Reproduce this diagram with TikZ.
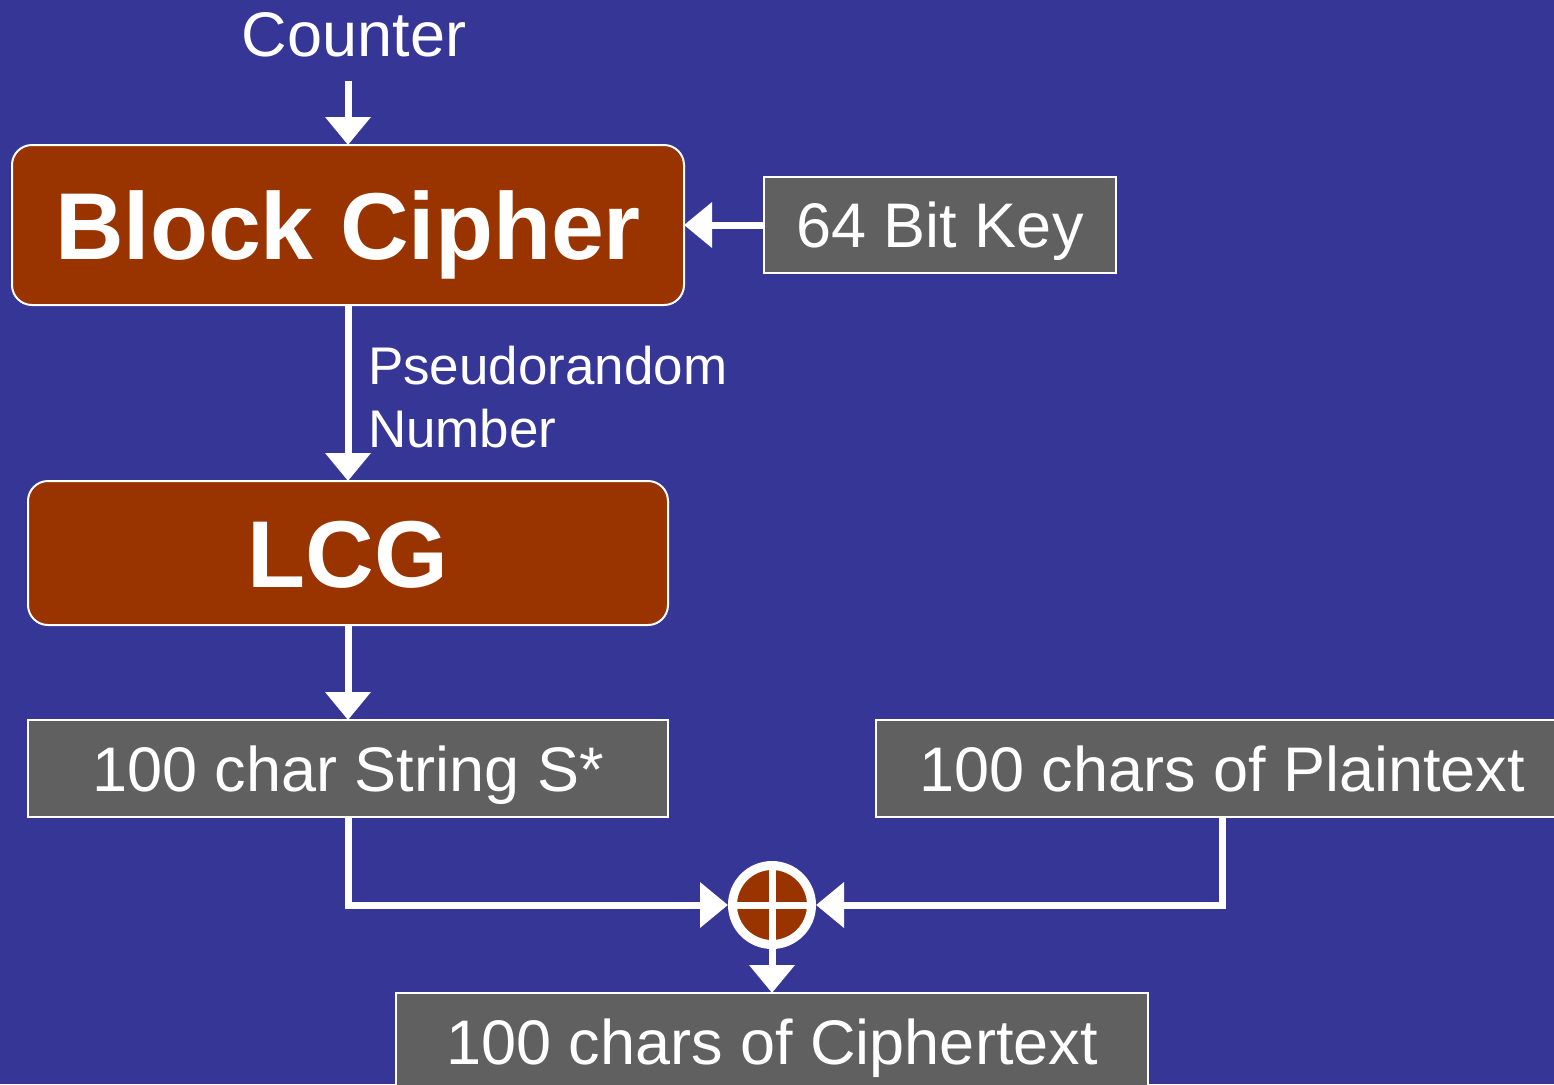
\documentclass[tikz,border=0pt]{standalone}
\usepackage{fontspec}
\setmainfont{Liberation Sans}
\usetikzlibrary{arrows.meta}
\definecolor{bgblue}{RGB}{54,54,150}
\definecolor{rust}{RGB}{153,51,0}
\definecolor{slate}{RGB}{96,96,96}

\begin{document}
\begin{tikzpicture}[x=0.5pt,y=-0.5pt]
        \tikzstyle{every node}+=[inner sep=0pt, outer sep=0pt, text=white]
        \tikzstyle{cipherbox}=[draw=white, line width=1pt, fill=rust, rounded corners=10pt, text height=34pt, text depth=0pt, font=\bfseries\fontsize{47.5}{50}\selectfont]
        \tikzstyle{databox}=[draw=white, line width=1pt, fill=slate, text height=22.6pt, text depth=0pt, font=\fontsize{31.5}{36}\selectfont]
        \tikzstyle{flow}=[draw=white, line width=3.5pt, -{Triangle[width=22pt,length=14pt]}]
        \fill [bgblue] (0,0) rectangle (1554,1084);
        \useasboundingbox (0,0) rectangle (1554,1084);
        \node [font=\fontsize{31.5}{36}\selectfont] (counter) at (354,35) {Counter};
        \node [cipherbox, minimum width=336pt, minimum height=80pt] (block) at (348,225) {Block Cipher};
        \node [databox, minimum width=176pt, minimum height=48pt] (key) at (940,225) {64 Bit Key};
        \node [cipherbox, minimum width=320pt, minimum height=72pt] (lcg) at (348,553) {LCG};
        \node [databox, minimum width=320pt, minimum height=48.5pt] (str) at (348,768.5) {100 char String S*};
        \node [databox, minimum width=346pt, minimum height=48.5pt] (plain) at (1222,768.5) {100 chars of Plaintext};
        \node [draw=white, line width=4.5pt, fill=rust, circle, minimum size=39.5pt, outer sep=2.25pt] (xor) at (772,905) {};
        \node [databox, minimum width=376pt, minimum height=49pt] (cipher) at (772,1042) {100 chars of Ciphertext};
        \node [anchor=west, align=left, font=\fontsize{26.5}{31.5}\selectfont] (prn) at (368,397) {Pseudorandom\\Number};
        % cross of the xor
        \draw [white, line width=3.5pt] (xor.north) -- (xor.south);
        \draw [white, line width=3.5pt] (xor.west) -- (xor.east);
        % flow of data
        \draw [flow, shorten <=12pt] (counter.south -| block.north) -- (block.north);
        \draw [flow] (key.west) -- (block.east);
        \draw [flow] (block) -- (lcg);
        \draw [flow] (lcg) -- (str);
        \draw [flow] (str.south) |- (xor.west);
        \draw [flow] (plain.south) |- (xor.east);
        \draw [flow] (xor.south) -- (cipher.north);
    \end{tikzpicture}
\end{document}
